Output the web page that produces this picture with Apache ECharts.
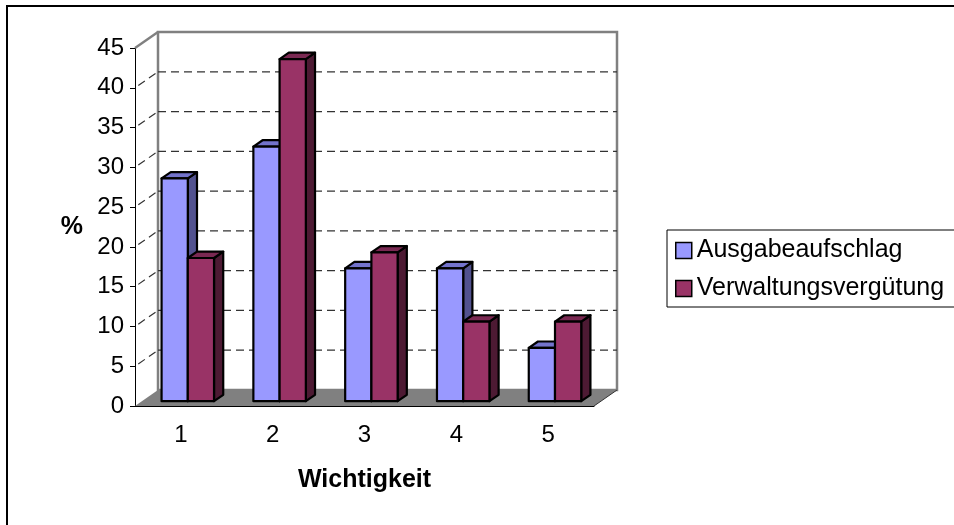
<!DOCTYPE html>
<html>
<head>
<meta charset="utf-8">
<script src="https://cdn.jsdelivr.net/npm/echarts@6/dist/echarts.min.js"></script>
<style>
  html, body { margin: 0; padding: 0; background: #fff; }
  #chart { width: 954px; height: 525px; }
</style>
</head>
<body>
<div id="chart"></div>
<script>
// Daten
const categories = ['1', '2', '3', '4', '5']
const seriesNames = ['Ausgabeaufschlag', 'Verwaltungsvergütung']
const ausgabeaufschlag = [28, 32, 16.7, 16.7, 6.7]
const verwaltungsverguetung = [18, 43, 18.7, 10, 10]
const yTicks = [0, 5, 10, 15, 20, 25, 30, 35, 40, 45]

const FONT = 'Liberation Sans, Arial, sans-serif'
// Tiefe der 3D-Wände (Pixel)
const DX = 23
const DY = -16
// Balken: Vorderseite bei 30% der Tiefe, Balkentiefe 40%
const BAR_FRONT = 0.3
const BAR_DEPTH = 0.4

const faces = [
  { front: '#9999FF', top: '#7373CC', side: '#52528F' },
  { front: '#993366', top: '#7A2952', side: '#4D1A33' }
]

const chart = echarts.init(document.getElementById('chart'))

// Wände, Boden und Gitterlinien
const renderFrame = (params, api) => {
  const cs = params.coordSys
  const x0 = cs.x
  const x1 = cs.x + cs.width
  const yT = cs.y
  const yB = cs.y + cs.height
  const t = api.value(1)
  const y = api.coord([0, t])[1]
  const children = []
  if (t === yTicks[0]) {
    children.push({
      type: 'polygon',
      shape: { points: [[x0 + DX, yT + DY], [x1 + DX, yT + DY], [x1 + DX, yB + DY], [x0 + DX, yB + DY]] },
      style: { fill: '#fff', stroke: '#808080', lineWidth: 2.5 }
    })
    children.push({
      type: 'polygon',
      shape: { points: [[x0, yB], [x1, yB], [x1 + DX, yB + DY], [x0 + DX, yB + DY]] },
      style: { fill: '#808080' }
    })
    children.push({
      type: 'line',
      shape: { x1: x1, y1: yB, x2: x1 + DX, y2: yB + DY },
      style: { stroke: '#333', lineWidth: 1 }
    })
    children.push({
      type: 'line',
      shape: { x1: x0, y1: yT, x2: x0 + DX, y2: yT + DY },
      style: { stroke: '#808080', lineWidth: 2.5 }
    })
  } else if (t < yTicks[yTicks.length - 1]) {
    const dash = { stroke: '#333', lineWidth: 1.2, lineDash: [8, 5] }
    children.push({
      type: 'line',
      shape: { x1: x0, y1: y, x2: x0 + DX, y2: y + DY },
      style: Object.assign({ lineDashOffset: 9 }, dash)
    })
    children.push({
      type: 'line',
      shape: { x1: x0 + DX, y1: y + DY, x2: x1 + DX, y2: y + DY },
      style: dash
    })
  }
  return { type: 'group', children: children }
}

// 3D-Balken
const makeBarRenderer = (s) => (params, api) => {
  const i = api.value(0)
  const v = api.value(1)
  const top = api.coord([i, v])
  const base = api.coord([i, 0])
  const catW = api.size([1, 0])[0]
  const barW = catW / 3.5
  const xl = top[0] - barW + s * barW + BAR_FRONT * DX
  const xr = xl + barW
  const yt = top[1] + BAR_FRONT * DY
  const yb = base[1] + BAR_FRONT * DY
  const bx = BAR_DEPTH * DX
  const by = BAR_DEPTH * DY
  const c = faces[s]
  const line = { stroke: '#000', lineWidth: 2.2, lineJoin: 'round' }
  return {
    type: 'group',
    children: [
      {
        type: 'polygon',
        shape: { points: [[xr, yt], [xr + bx, yt + by], [xr + bx, yb + by], [xr, yb]] },
        style: Object.assign({ fill: c.side }, line)
      },
      {
        type: 'polygon',
        shape: { points: [[xl, yt], [xr, yt], [xr + bx, yt + by], [xl + bx, yt + by]] },
        style: Object.assign({ fill: c.top }, line)
      },
      {
        type: 'rect',
        shape: { x: xl, y: yt, width: barW, height: yb - yt },
        style: Object.assign({ fill: c.front }, line)
      }
    ]
  }
}

chart.setOption({
  animation: false,
  textStyle: { fontFamily: FONT },
  graphic: [
    {
      type: 'rect',
      shape: { x: 7, y: 6, width: 1000, height: 600 },
      style: { fill: 'none', stroke: '#000', lineWidth: 2 },
      silent: true
    }
  ],
  grid: { left: 135, top: 48, width: 459, height: 358 },
  legend: {
    data: seriesNames,
    orient: 'vertical',
    left: 667,
    top: 230,
    padding: [8, 14, 6, 8],
    itemGap: 13,
    itemWidth: 16,
    itemHeight: 16,
    icon: 'rect',
    borderColor: '#000',
    borderWidth: 1,
    itemStyle: { borderColor: '#000', borderWidth: 1.5 },
    textStyle: { fontSize: 25, fontFamily: FONT, color: '#000' }
  },
  xAxis: {
    type: 'category',
    data: categories,
    name: 'Wichtigkeit',
    nameLocation: 'middle',
    nameGap: 62,
    nameTextStyle: { fontSize: 25, fontWeight: 'bold', color: '#000', fontFamily: FONT },
    axisLine: { lineStyle: { color: '#000', width: 1 } },
    axisTick: { length: 7, lineStyle: { color: '#000' } },
    axisLabel: { fontSize: 24, color: '#000', margin: 17, fontFamily: FONT },
    splitLine: { show: false }
  },
  yAxis: {
    type: 'value',
    min: 0,
    max: 45,
    interval: 5,
    name: '%',
    nameLocation: 'middle',
    nameRotate: 0,
    nameGap: 52,
    nameTextStyle: { fontSize: 25, fontWeight: 'bold', color: '#000', fontFamily: FONT },
    axisLine: { show: true, lineStyle: { color: '#000', width: 1 } },
    axisTick: { show: true, length: 5, lineStyle: { color: '#000' } },
    axisLabel: { fontSize: 24, color: '#000', margin: 11, fontFamily: FONT },
    splitLine: { show: false }
  },
  series: [
    {
      type: 'custom',
      name: 'frame',
      silent: true,
      clip: false,
      renderItem: renderFrame,
      data: yTicks.map((t) => [0, t])
    },
    {
      type: 'custom',
      name: seriesNames[0],
      clip: false,
      itemStyle: { color: faces[0].front },
      renderItem: makeBarRenderer(0),
      data: ausgabeaufschlag.map((v, i) => [i, v])
    },
    {
      type: 'custom',
      name: seriesNames[1],
      clip: false,
      itemStyle: { color: faces[1].front },
      renderItem: makeBarRenderer(1),
      data: verwaltungsverguetung.map((v, i) => [i, v])
    }
  ]
})
</script>
</body>
</html>
